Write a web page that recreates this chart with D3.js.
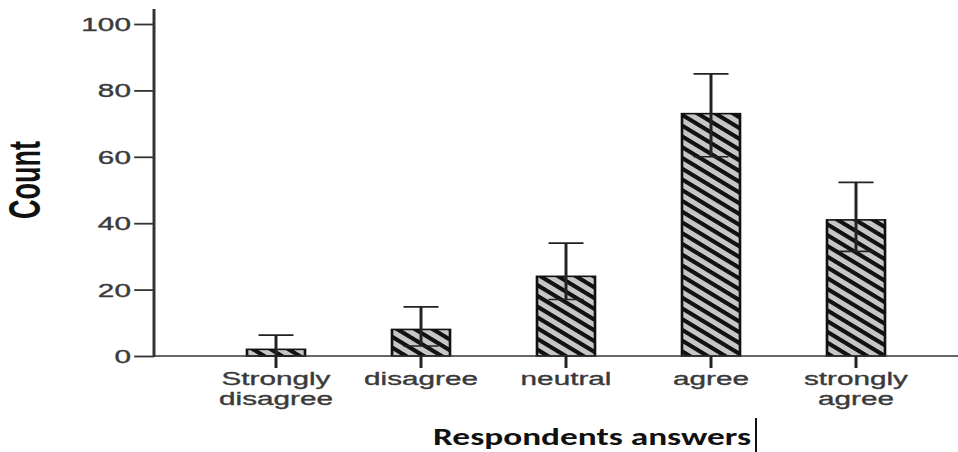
<!DOCTYPE html>
<html>
<head>
<meta charset="utf-8">
<script src="https://cdn.jsdelivr.net/npm/d3@7"></script>
<style>
  body { margin: 0; background: #fff; }
  svg { display: block; }
</style>
</head>
<body>
<div id="chart"></div>
<script>
// data
const categories = ["Strongly disagree", "disagree", "neutral", "agree", "strongly agree"];
const labelLines = [["Strongly", "disagree"], ["disagree"], ["neutral"], ["agree"], ["strongly", "agree"]];
const counts = [2, 8, 24, 73, 41];
const errLow = [0, 3, 17, 60, 31.5];
const errHigh = [6.3, 14.8, 34, 85, 52.3];
const yTicks = [0, 20, 40, 60, 80, 100];

const width = 958, height = 452;
// the original picture is stretched sideways, so the plot is drawn narrow and scaled
const sx = 1.65;

const svg = d3.select("#chart").append("svg")
    .attr("width", width)
    .attr("height", height);

const defs = svg.append("defs");
const pat = defs.append("pattern")
    .attr("id", "hatch")
    .attr("patternUnits", "userSpaceOnUse")
    .attr("width", 7.6)
    .attr("height", 7.6)
    .attr("patternTransform", "rotate(45)");
pat.append("rect").attr("width", 7.6).attr("height", 7.6).attr("fill", "#c6c6c6");
pat.append("rect").attr("width", 7.6).attr("height", 3.4).attr("fill", "#111");

const plot = svg.append("g").attr("transform", `scale(${sx},1)`);

const x = d3.scaleBand()
    .domain(categories)
    .range([203.5 / sx, 928.5 / sx])
    .paddingInner(0.6)
    .paddingOuter(0.3);

const y = d3.scaleLinear()
    .domain([0, 100])
    .range([356, 24]);

const axisX = 154 / sx;

// y axis
const yAxis = d3.axisLeft(y).tickValues(yTicks).tickSize(12).tickPadding(2).tickSizeOuter(0);
const gy = plot.append("g").attr("transform", `translate(${axisX},0)`).call(yAxis);
gy.select(".domain").remove();
gy.selectAll(".tick line").attr("stroke", "#333").attr("stroke-width", 1.8);
gy.selectAll(".tick text")
    .attr("fill", "#3a3a3a")
    .attr("stroke", "#3a3a3a")
    .attr("stroke-width", 0.35)
    .style("font-family", "'Liberation Sans', Arial, sans-serif")
    .style("font-size", "18px")
    .attr("dy", "0.36em");
plot.append("line")
    .attr("x1", axisX).attr("x2", axisX)
    .attr("y1", 9).attr("y2", 357)
    .attr("stroke", "#333").attr("stroke-width", 1.8);

// bars
plot.selectAll("rect.bar")
    .data(categories)
    .join("rect")
    .attr("class", "bar")
    .attr("x", d => x(d))
    .attr("y", (d, i) => y(counts[i]))
    .attr("width", x.bandwidth())
    .attr("height", (d, i) => y(0) - y(counts[i]))
    .attr("fill", "url(#hatch)")
    .attr("stroke", "#111")
    .attr("stroke-width", 1.6);

// x axis
plot.append("line")
    .attr("x1", axisX).attr("x2", width / sx)
    .attr("y1", 356).attr("y2", 356)
    .attr("stroke", "#333").attr("stroke-width", 1.6);

const xAxis = d3.axisBottom(x).tickSize(12).tickFormat("");
const gx = plot.append("g").attr("transform", "translate(0,356)").call(xAxis);
gx.select(".domain").remove();
gx.selectAll(".tick line").attr("stroke", "#222").attr("stroke-width", 1.8);

// error bars
const capW = 35 / sx / 2;
const eb = plot.selectAll("g.err")
    .data(categories)
    .join("g")
    .attr("class", "err");
eb.append("line")
    .attr("x1", d => x(d) + x.bandwidth() / 2)
    .attr("x2", d => x(d) + x.bandwidth() / 2)
    .attr("y1", (d, i) => y(errLow[i]))
    .attr("y2", (d, i) => y(errHigh[i]))
    .attr("stroke", "#222").attr("stroke-width", 1.8);
eb.append("line")
    .attr("x1", d => x(d) + x.bandwidth() / 2 - capW)
    .attr("x2", d => x(d) + x.bandwidth() / 2 + capW)
    .attr("y1", (d, i) => y(errHigh[i]))
    .attr("y2", (d, i) => y(errHigh[i]))
    .attr("stroke", "#222").attr("stroke-width", 1.8);
eb.append("line")
    .attr("x1", d => x(d) + x.bandwidth() / 2 - capW)
    .attr("x2", d => x(d) + x.bandwidth() / 2 + capW)
    .attr("y1", (d, i) => y(errLow[i]))
    .attr("y2", (d, i) => y(errLow[i]))
    .attr("stroke", "#222").attr("stroke-width", 1.6);

// category labels
const lab = plot.selectAll("text.cat")
    .data(categories)
    .join("text")
    .attr("class", "cat")
    .attr("x", d => x(d) + x.bandwidth() / 2)
    .attr("y", 385)
    .attr("text-anchor", "middle")
    .attr("fill", "#3a3a3a")
    .attr("stroke", "#3a3a3a")
    .attr("stroke-width", 0.35)
    .style("font-family", "'Liberation Sans', Arial, sans-serif")
    .style("font-size", "18px");
lab.selectAll("tspan")
    .data((d, i) => labelLines[i])
    .join("tspan")
    .attr("x", function () { return d3.select(this.parentNode).attr("x"); })
    .attr("dy", (d, i) => i === 0 ? 0 : 20)
    .text(d => d);

// y title
plot.append("text")
    .attr("transform", `translate(${40 / sx},180) rotate(-90)`)
    .attr("text-anchor", "middle")
    .attr("fill", "#111")
    .style("font-family", "'Liberation Sans', Arial, sans-serif")
    .style("font-size", "27px")
    .style("font-weight", "bold")
    .text("Count");

// x title (added later in another font, not stretched)
svg.append("text")
    .attr("x", 433)
    .attr("y", 445)
    .attr("textLength", 318)
    .attr("lengthAdjust", "spacingAndGlyphs")
    .attr("fill", "#111")
    .style("font-family", "Carlito, 'Open Sans', sans-serif")
    .style("font-size", "25px")
    .style("font-weight", "bold")
    .text("Respondents answers");
svg.append("line")
    .attr("x1", 756).attr("x2", 756)
    .attr("y1", 418).attr("y2", 452)
    .attr("stroke", "#111").attr("stroke-width", 2);
</script>
</body>
</html>
